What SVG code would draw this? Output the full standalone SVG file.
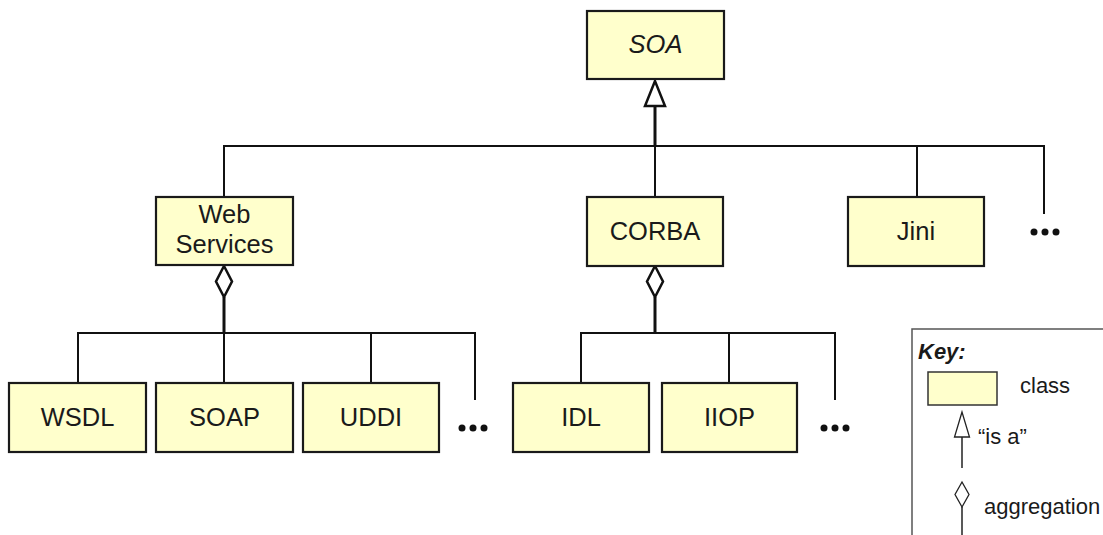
<svg xmlns="http://www.w3.org/2000/svg" width="1103" height="535" viewBox="0 0 1103 535">
<style>
.box{fill:#ffffcc;stroke:#1a1a1a;stroke-width:2.2}
.lbl{font-family:"Liberation Sans",Arial,sans-serif;font-size:25.5px;fill:#1a1a1a;text-anchor:middle}
.ln{stroke:#111;stroke-width:2;fill:none}
.thick{stroke:#111;stroke-width:3;fill:none}
.head{fill:#fff;stroke:#111;stroke-width:2.5;stroke-linejoin:miter}
.dot{fill:#111}
.key{font-family:"Liberation Sans",Arial,sans-serif;font-size:22px;fill:#1a1a1a}
</style>
<rect width="1103" height="535" fill="#fff"/>
<g id="connectors">
  <line class="thick" x1="655" y1="106" x2="655" y2="147"/>
  <polyline class="ln" points="224,197 224,146 1044,146 1044,214"/>
  <line class="ln" x1="655" y1="146" x2="655" y2="197"/>
  <line class="ln" x1="917" y1="146" x2="917" y2="197"/>
  <polygon class="head" points="655,81 645,106 665,106"/>
  <line class="thick" x1="224" y1="297" x2="224" y2="333"/>
  <polyline class="ln" points="78,383 78,333 475,333 475,400"/>
  <line class="ln" x1="224" y1="333" x2="224" y2="383"/>
  <line class="ln" x1="371" y1="333" x2="371" y2="383"/>
  <polygon class="head" points="224,266 232,281.5 224,297 216,281.5"/>
  <line class="thick" x1="655" y1="297" x2="655" y2="333"/>
  <polyline class="ln" points="581,383 581,333 835,333 835,400"/>
  <line class="ln" x1="729" y1="333" x2="729" y2="383"/>
  <polygon class="head" points="655,266 663,281.5 655,297 647,281.5"/>
</g>
<g id="soa"><rect class="box" x="587" y="11" width="137" height="68"/><text class="lbl" x="655.5" y="53" font-style="italic">SOA</text></g>
<g id="webservices"><rect class="box" x="156" y="197" width="137" height="68"/><text class="lbl" x="224.5" y="223">Web</text><text class="lbl" x="224.5" y="253">Services</text></g>
<g id="corba"><rect class="box" x="587" y="197" width="136" height="69"/><text class="lbl" x="655" y="240">CORBA</text></g>
<g id="jini"><rect class="box" x="848" y="197" width="136" height="69"/><text class="lbl" x="916" y="240">Jini</text></g>
<g id="more1"><circle class="dot" cx="1034" cy="232" r="3.5"/><circle class="dot" cx="1045" cy="232" r="3.5"/><circle class="dot" cx="1056" cy="232" r="3.5"/></g>
<g id="wsdl"><rect class="box" x="9" y="383" width="137" height="69"/><text class="lbl" x="77.5" y="426">WSDL</text></g>
<g id="soap"><rect class="box" x="156" y="383" width="137" height="69"/><text class="lbl" x="224.5" y="426">SOAP</text></g>
<g id="uddi"><rect class="box" x="303" y="383" width="136" height="69"/><text class="lbl" x="371" y="426">UDDI</text></g>
<g id="more2"><circle class="dot" cx="462" cy="428" r="3.5"/><circle class="dot" cx="473" cy="428" r="3.5"/><circle class="dot" cx="484" cy="428" r="3.5"/></g>
<g id="idl"><rect class="box" x="513" y="383" width="136" height="69"/><text class="lbl" x="581" y="426">IDL</text></g>
<g id="iiop"><rect class="box" x="662" y="383" width="135" height="69"/><text class="lbl" x="729.5" y="426">IIOP</text></g>
<g id="more3"><circle class="dot" cx="824" cy="428" r="3.5"/><circle class="dot" cx="835" cy="428" r="3.5"/><circle class="dot" cx="846" cy="428" r="3.5"/></g>
<g id="key">
  <polyline points="912,536 912,329 1104,329" fill="none" stroke="#555" stroke-width="1.5"/>
  <text class="key" x="918" y="359" font-size="21" font-weight="bold" font-style="italic">Key:</text>
  <rect x="928" y="372" width="69" height="33" fill="#ffffcc" stroke="#333" stroke-width="1.5"/>
  <text class="key" x="1020" y="393">class</text>
  <line x1="962" y1="437" x2="962" y2="468" stroke="#222" stroke-width="1.5"/>
  <polygon points="962,412 954.5,437 969.5,437" fill="#fff" stroke="#222" stroke-width="1.3"/>
  <text class="key" x="978" y="444">“is a”</text>
  <polygon points="962,482 969,494.5 962,507 955,494.5" fill="#fff" stroke="#222" stroke-width="1.3"/>
  <line x1="962" y1="507" x2="962" y2="535" stroke="#222" stroke-width="1.5"/>
  <text class="key" x="984" y="514">aggregation</text>
</g>
</svg>
